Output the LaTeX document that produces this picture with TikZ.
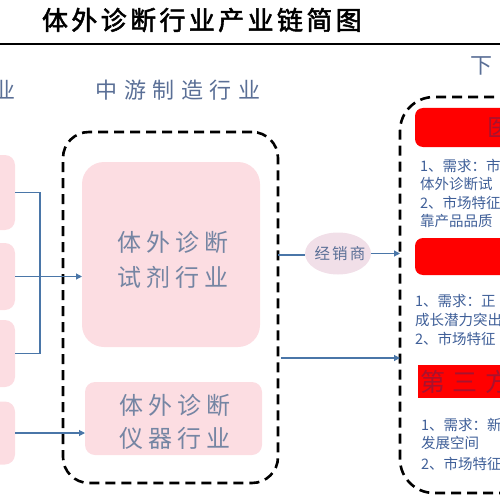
\documentclass[tikz,border=0pt]{standalone}
\usepackage{fontspec}
\usetikzlibrary{arrows.meta,shapes.geometric}
\newfontfamily\cjk{Noto Sans CJK SC}
\newfontfamily\cjktitle[LetterSpace=13,FakeBold=2]{Noto Sans CJK SC}
\newfontfamily\cjkhead[LetterSpace=30]{Noto Sans CJK SC}
\newfontfamily\cjkbox[LetterSpace=20]{Noto Sans CJK SC}
\newfontfamily\cjkdist[LetterSpace=14]{Noto Sans CJK SC}
\definecolor{boxpink}{HTML}{FCDDE2}
\definecolor{distpink}{HTML}{F1DFE8}
\definecolor{headblue}{HTML}{5A6F96}
\definecolor{boxtext}{HTML}{7585A3}
\definecolor{bodyblue}{HTML}{3F5F98}
\definecolor{connblue}{HTML}{4A76A8}
\definecolor{darkred}{HTML}{A8122E}
\begin{document}
\begin{tikzpicture}[x=1pt,y=-1pt,
  every node/.style={inner sep=0pt,outer sep=0pt},
  pinkbox/.style={fill=boxpink,draw=none,rectangle},
  dashbox/.style={draw=black,line width=2.6pt,dash pattern=on 10pt off 6pt,rectangle,fill=none},
  redbox/.style={fill=red,draw=none,rectangle},
  conn/.style={draw=connblue,line width=1.1pt},
  arr/.style={conn,-{Triangle[length=6pt,width=6pt]}},
  head/.style={font=\cjkhead\fontsize{22}{24}\selectfont,text=headblue},
  boxlbl/.style={font=\cjkbox\fontsize{24}{26}\selectfont,text=boxtext},
  body/.style={font=\cjk\fontsize{14.5}{16}\selectfont,text=bodyblue,anchor=west}]
\useasboundingbox (0,0) rectangle (500,500);
\clip (0,0) rectangle (500,500);
% title and rule
\node[anchor=west,font=\cjktitle\fontsize{26}{28}\selectfont,text=black] (title) at (42,20) {体外诊断行业产业链简图};
\coordinate (rl) at (0,44);
\coordinate (rr) at (500,44);
\draw[line width=2pt] (rl) -- (rr);
% headers
\node[head,anchor=east] (uph) at (16,90) {业};
\node[head] (midh) at (178,90) {中游制造行业};
\node[head,anchor=west] (dnh) at (470,66) {下};
% left boxes
\node[pinkbox,rounded corners=10pt,minimum width=60pt,minimum height=75pt] (l1) at (-15,192.5) {};
\node[pinkbox,rounded corners=10pt,minimum width=60pt,minimum height=67pt] (l2) at (-15,276.5) {};
\node[pinkbox,rounded corners=10pt,minimum width=60pt,minimum height=67pt] (l3) at (-15,353.5) {};
\node[pinkbox,rounded corners=10pt,minimum width=60pt,minimum height=63pt] (l4) at (-15,433) {};
% middle
\node[dashbox,rounded corners=26pt,minimum width=215pt,minimum height=351pt] (mid) at (170.5,307.5) {};
\node[pinkbox,rounded corners=22pt,minimum width=178pt,minimum height=185pt] (reag) at (171,254.5) {};
\node[pinkbox,rounded corners=10pt,minimum width=177pt,minimum height=73pt] (inst) at (173.5,418.5) {};
\node[boxlbl] (reag1) at (173,242) {体外诊断};
\node[boxlbl] (reag2) at (173,277) {试剂行业};
\node[boxlbl] (inst1) at (175,405) {体外诊断};
\node[boxlbl] (inst2) at (175,438) {仪器行业};
% left connectors
\draw[conn] (l1.east) -- ++(25,0) |- (l3.east);
\draw[arr] (l2.east) -- (l2.east -| reag.west);
\draw[arr] (l4.east) -- (l4.east -| inst.west);
% right box
\node[dashbox,rounded corners=34pt,minimum width=240pt,minimum height=396pt] (rbox) at (520,295) {};
\node[redbox,rounded corners=8pt,minimum width=235pt,minimum height=39pt] (red1) at (532.5,127.5) {};
\node[redbox,rounded corners=8pt,minimum width=235pt,minimum height=37pt] (red2) at (532.5,256.5) {};
\node[redbox,minimum width=235pt,minimum height=33pt] (red3) at (535.5,381.5) {};
\node[anchor=west,font=\cjk\fontsize{24}{26}\selectfont,text=darkred] (red1t) at (487,127.5) {医院};
\node[anchor=west,font=\cjkhead\fontsize{25}{27}\selectfont,text=darkred] (red3t) at (420,381.5) {第三方};
% text blocks
\node[body] (b1a) at (420,166) {1、需求：市};
\node[body] (b1b) at (420,184) {体外诊断试};
\node[body] (b1c) at (420,203) {2、市场特征};
\node[body] (b1d) at (420,221) {靠产品品质};
\node[body] (b2a) at (415,301) {1、需求：正};
\node[body] (b2b) at (415,320) {成长潜力突出};
\node[body] (b2c) at (415,339) {2、市场特征};
\node[body] (b3a) at (421,425) {1、需求：新};
\node[body] (b3b) at (421,443) {发展空间};
\node[body] (b3c) at (421,464) {2、市场特征};
% distributor
\node[ellipse,fill=distpink,minimum width=66pt,minimum height=42pt] (dist) at (338,253.5) {};
\node[font=\cjkdist\fontsize{15.5}{17}\selectfont,text=headblue] (distt) at (340,253.5) {经销商};
\coordinate (m1) at (278,255);
\coordinate (m2) at (281,358);
\draw[conn] (m1) -- (m1 -| dist.west);
\draw[arr] (dist.east) -- (dist.east -| rbox.west);
\draw[arr] (m2) -- (m2 -| rbox.west);
\end{tikzpicture}
\end{document}
